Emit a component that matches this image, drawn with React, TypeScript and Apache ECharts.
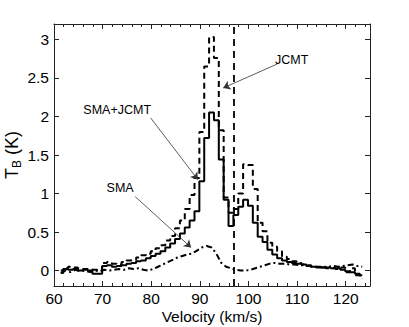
import React, { useEffect, useRef } from "react";
import * as echarts from "echarts";

// Channel centre velocities (km/s)
const velocity = [
  61.4, 62.4, 63.4, 64.4, 65.4, 66.4, 67.4, 68.4, 69.4, 70.4,
  71.4, 72.4, 73.4, 74.4, 75.4, 76.4, 77.4, 78.4, 79.4, 80.4,
  81.4, 82.4, 83.4, 84.4, 85.4, 86.4, 87.4, 88.4, 89.4, 90.4,
  91.4, 92.4, 93.4, 94.4, 95.4, 96.4, 97.4, 98.4, 99.4, 100.4,
  101.4, 102.4, 103.4, 104.4, 105.4, 106.4, 107.4, 108.4, 109.4, 110.4,
  111.4, 112.4, 113.4, 114.4, 115.4, 116.4, 117.4, 118.4, 119.4, 120.4,
  121.4, 122.4, 123.4,
];

// SMA+JCMT combined spectrum (solid)
const combined = [
  0.0, 0.02, 0.01, 0.02, 0.0, 0.01, 0.0, -0.04, -0.04, 0.06,
  0.07, 0.05, 0.06, 0.07, 0.09, 0.1, 0.12, 0.13, 0.16, 0.19,
  0.22, 0.25, 0.3, 0.35, 0.41, 0.48, 0.56, 0.65, 0.77, 1.16,
  1.72, 2.05, 1.95, 1.44, 0.92, 0.58, 0.72, 0.83, 0.92, 0.84,
  0.62, 0.44, 0.37, 0.27, 0.21, 0.16, 0.13, 0.11, 0.1, 0.09,
  0.08, 0.06, 0.05, 0.05, 0.04, 0.04, 0.03, 0.03, 0.01, -0.01,
  -0.02, -0.04, -0.06,
];

// JCMT single-dish spectrum (dashed)
const jcmt = [
  -0.03, 0.03, 0.05, 0.04, 0.03, 0.02, 0.02, 0.01, 0.0, 0.1,
  0.11, 0.09, 0.08, 0.11, 0.13, 0.14, 0.17, 0.2, 0.22, 0.25,
  0.29, 0.33, 0.39, 0.45, 0.55, 0.65, 0.8, 0.98, 1.2, 1.8,
  2.65, 3.03, 2.76, 1.82, 0.95, 0.75, 0.8, 1.0, 1.38, 1.37,
  1.06, 0.62, 0.51, 0.36, 0.31, 0.25, 0.18, 0.15, 0.12, 0.1,
  0.08, 0.07, 0.05, 0.04, 0.05, 0.03, 0.03, 0.02, 0.04, -0.02,
  0.03, -0.06, -0.1,
];

// SMA interferometer spectrum (dash-dot)
const sma = [
  -0.03, 0.0, -0.02, 0.01, -0.01, 0.0, -0.02, 0.0, -0.01, 0.01,
  0.0, 0.01, 0.02, 0.01, 0.03, 0.02, 0.03, 0.01, 0.0, 0.02,
  0.05, 0.08, 0.11, 0.14, 0.17, 0.19, 0.21, 0.22, 0.26, 0.3,
  0.32, 0.3, 0.22, 0.1, 0.05, 0.03, 0.01, 0.0, 0.0, 0.01,
  0.03, 0.05, 0.07, 0.09, 0.1, 0.09, 0.09, 0.08, 0.08, 0.07,
  0.07, 0.06, 0.05, 0.05, 0.04, 0.05, 0.06, 0.05, 0.06, 0.07,
  0.08, 0.06, 0.05,
];

const yTickValues = [0, 0.5, 1, 1.5, 2, 2.5, 3];
const systemicVelocity = 97;

// Annotation anchors in data coordinates
const labels = [
  { text: "JCMT", at: [108.9, 2.73], from: [105.9, 2.68], to: [94.8, 2.37] },
  { text: "SMA+JCMT", at: [73.0, 2.08], from: [79.9, 1.98], to: [89.6, 1.18] },
  { text: "SMA", at: [73.6, 1.07], from: [76.7, 0.96], to: [88.2, 0.3] },
];

const FONT = "Liberation Sans, Arial, Helvetica, sans-serif";

export default function App() {
  const ref = useRef<HTMLDivElement>(null);
  useEffect(() => {
    if (!ref.current) return;
    const chart = echarts.init(ref.current, undefined, { renderer: "svg" });
    const pairs = (arr: number[]) => velocity.map((v, i) => [v, arr[i]]);
    const axisLine = { show: true, onZero: false, lineStyle: { color: "#222", width: 1 } };
    const xCommon = {
      type: "value" as const,
      min: 60,
      max: 125,
      interval: 10,
      axisLine,
      axisTick: { show: true, inside: true, length: 5, lineStyle: { color: "#222" } },
      minorTick: { show: true, splitNumber: 5, length: 3, lineStyle: { color: "#222" } },
      splitLine: { show: false },
      minorSplitLine: { show: false },
    };
    const yCommon = {
      type: "value" as const,
      min: -0.2,
      max: 3.2,
      axisLine,
      axisTick: { show: true, inside: true, length: 5, customValues: yTickValues, lineStyle: { color: "#222" } },
      splitLine: { show: false },
    };
    chart.setOption({
      animation: false,
      backgroundColor: "#fff",
      grid: { left: 54, right: 39, top: 24, bottom: 41, containLabel: false, outerBoundsMode: "none" },
      xAxis: [
        {
          ...xCommon,
          position: "bottom",
          name: "Velocity (km/s)",
          nameLocation: "middle",
          nameGap: 22,
          nameMoveOverlap: false,
          nameTextStyle: { fontFamily: FONT, fontSize: 15.5, color: "#000" },
          axisLabel: { show: true, showMaxLabel: false, margin: 4, fontFamily: FONT, fontSize: 15.5, color: "#000" },
        },
        {
          ...xCommon,
          position: "top",
          axisLabel: { show: false },
        },
      ],
      yAxis: [
        {
          ...yCommon,
          position: "left",
          name: "{t|T}{s|B}{t| (K)}",
          nameLocation: "middle",
          nameGap: 31,
          nameMoveOverlap: false,
          nameRotate: 90,
          nameTextStyle: {
            fontFamily: FONT,
            color: "#000",
            rich: {
              t: { fontFamily: FONT, fontSize: 18, color: "#000", lineHeight: 22, verticalAlign: "middle" },
              s: { fontFamily: FONT, fontSize: 12, color: "#000", lineHeight: 22, padding: [10, 0, 0, 0], verticalAlign: "middle" },
            },
          },
          axisLabel: {
            show: true,
            margin: 5,
            customValues: yTickValues,
            fontFamily: FONT,
            fontSize: 15.5,
            color: "#000",
          },
        },
        {
          ...yCommon,
          position: "right",
          axisLabel: { show: false },
        },
      ],
      series: [
        {
          name: "JCMT",
          type: "line",
          step: "middle",
          data: pairs(jcmt),
          showSymbol: false,
          symbol: "none",
          lineStyle: { color: "#000", width: 2, type: [6, 4] },
          markLine: {
            silent: true,
            symbol: ["none", "none"],
            label: { show: false },
            lineStyle: { color: "#000", width: 1.8, type: [7, 5] },
            data: [{ xAxis: systemicVelocity }],
          },
        },
        {
          name: "SMA+JCMT",
          type: "line",
          step: "middle",
          data: pairs(combined),
          showSymbol: false,
          symbol: "none",
          lineStyle: { color: "#000", width: 2, type: "solid" },
        },
        {
          name: "SMA",
          type: "line",
          data: pairs(sma),
          showSymbol: false,
          symbol: "none",
          lineStyle: { color: "#000", width: 2, type: [6, 3, 2, 3] },
          markLine: {
            silent: true,
            symbol: ["none", "arrow"],
            symbolSize: 7,
            label: { show: false },
            lineStyle: { color: "#333", width: 0.8, type: "solid" },
            data: labels.map((l) => [{ coord: l.from }, { coord: l.to }]),
          },
          markPoint: {
            silent: true,
            symbol: "circle",
            symbolSize: 1,
            itemStyle: { color: "rgba(0,0,0,0)" },
            label: {
              show: true,
              position: "inside",
              fontFamily: FONT,
              fontSize: 12.5,
              color: "#000",
              formatter: (p: any) => p.name,
            },
            data: labels.map((l) => ({ name: l.text, coord: l.at })),
          },
        },
      ],
    });
    return () => chart.dispose();
  }, []);
  return <div ref={ref} style={{ width: 409, height: 327, position: "absolute", left: 0, top: 0 }} />;
}
